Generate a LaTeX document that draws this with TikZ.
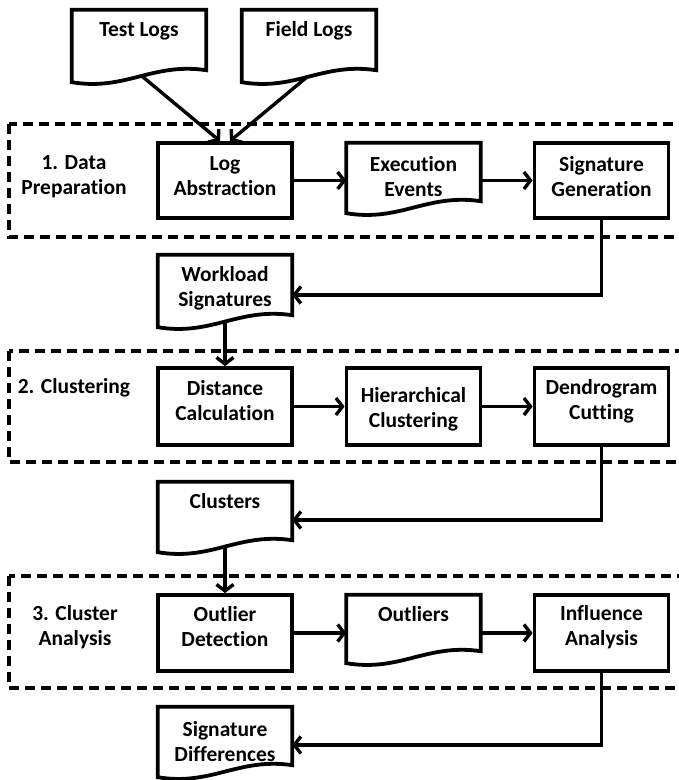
\documentclass[tikz,border=0pt]{standalone}
\usepackage{fontspec}
\setmainfont{Carlito}[Ligatures={NoCommon}]
\usetikzlibrary{arrows.meta,calc}
\newcommand\drawdoc[1]{\draw[shapeline] (#1.south west) -- (#1.north west) -- (#1.north east) -- ($(#1.south east)+(0,-12)$) .. controls ($(#1.south west)!0.6!(#1.south east)+(0,-20)$) and ($(#1.south west)!0.4!(#1.south east)+(0,9)$) .. cycle;}
\begin{document}
\begin{tikzpicture}[x=1pt,y=-1pt,
  every node/.style={font=\bfseries\fontsize{21.5}{25}\selectfont, align=center, inner sep=0pt},
  shapeline/.style={line width=3.8pt, line join=miter},
  box/.style={draw, line width=3.8pt, minimum width=134pt},
  docnode/.style={minimum width=134pt},
  conn/.style={line width=3.4pt, -{Straight Barb[length=6.5pt,width=17pt]}},
  phase/.style={line width=3.8pt, dash pattern=on 10pt off 6pt}]
\useasboundingbox (0,0) rectangle (679,780);

% phase frames
\draw[phase] (9,124) rectangle (700,237);
\draw[phase] (9,351) rectangle (700,462);
\draw[phase] (9,576) rectangle (700,688);

\node (p1) at (74,176.5) {1. Data\\Preparation};
\node (p2) at (74,388) {2. Clustering};
\node (p3) at (75,627) {3. Cluster\\Analysis};

% documents
\node[docnode, minimum height=72pt] (tl) at (139,46) {};
\node[docnode, minimum height=72pt] (fl) at (309,46) {};
\node[docnode, minimum height=70pt] (ee) at (413.5,178) {};
\node[docnode, minimum height=72pt] (ws) at (225,291) {};
\node[docnode, minimum height=70pt] (cl) at (225,517) {};
\node[docnode, minimum height=68pt] (ol) at (413.5,629) {};
\node[docnode, minimum height=70pt] (sd) at (225,742) {};
\drawdoc{tl}\drawdoc{fl}\drawdoc{ee}\drawdoc{ws}\drawdoc{cl}\drawdoc{ol}\drawdoc{sd}

\node (tlt) at (139,31) {Test Logs};
\node (flt) at (309,31) {Field Logs};
\node (eet) at (413.5,176.5) {Execution\\Events};
\node (wst) at (225,288) {Workload\\Signatures};
\node (clt) at (225,501) {Clusters};
\node (olt) at (413.5,614) {Outliers};
\node (sdt) at (225,742) {Signature\\Differences};

% boxes
\node[box, minimum height=75pt] (la) at (225,180.5) {};
\node[box, minimum height=75pt] (sg) at (601.5,180.5) {};
\node[box, minimum height=77pt] (dc) at (225,406.5) {};
\node[box, minimum height=77pt] (hc) at (413.5,406.5) {};
\node[box, minimum height=77pt] (dg) at (601.5,406.5) {};
\node[box, minimum height=76pt] (od) at (225,633) {};
\node[box, minimum height=76pt] (ia) at (601.5,633) {};

\node (lat) at (225,176.5) {Log\\Abstraction};
\node (sgt) at (601.5,176.5) {Signature\\Generation};
\node (dct) at (225,401) {Distance\\Calculation};
\node (hct) at (413.5,409) {Hierarchical\\Clustering};
\node (dgt) at (601.5,401) {Dendrogram\\Cutting};
\node (odt) at (225,627) {Outlier\\Detection};
\node (iat) at (601.5,627) {Influence\\Analysis};

% connectors
\draw[conn] ($(tl.south)+(3,-6)$) -- ($(la.north)+(-5,0)$);
\draw[conn] ($(fl.south)+(-1,-6)$) -- ($(la.north)+(5,0)$);
\draw[conn] (la.east) -- (la.east -| ee.west);
\draw[conn] (sg.west -| ee.east) -- (sg.west);
\draw[conn] (sg.south) |- ($(ws.east)+(0,4)$);
\draw[conn] ($(ws.south)+(0,-6)$) -- (dc.north);
\draw[conn] (dc.east) -- (hc.west);
\draw[conn] (hc.east) -- (dg.west);
\draw[conn] (dg.south) |- ($(cl.east)+(0,3)$);
\draw[conn] ($(cl.south)+(0,-6)$) -- (od.north);
\draw[conn] (od.east) -- (od.east -| ol.west);
\draw[conn] (ia.west -| ol.east) -- (ia.west);
\draw[conn] (ia.south) |- ($(sd.east)+(0,3)$);
\end{tikzpicture}
\end{document}
